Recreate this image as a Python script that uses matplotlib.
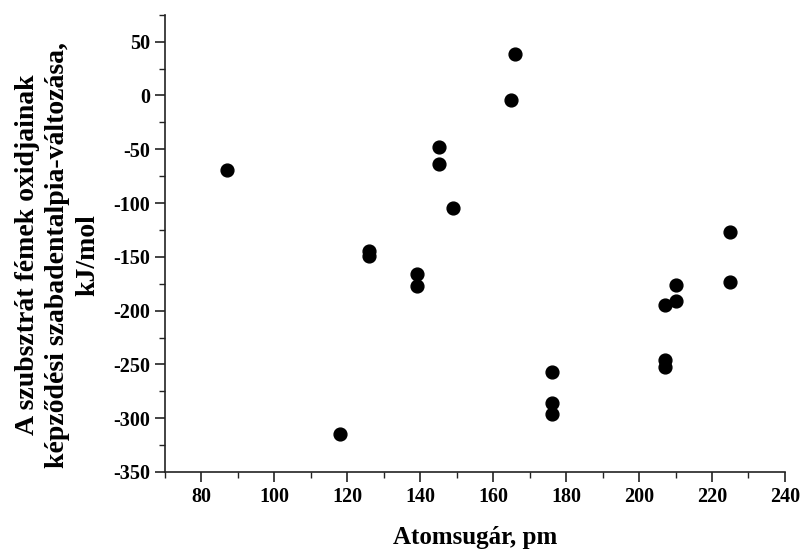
import matplotlib
matplotlib.use("Agg")
import matplotlib.pyplot as plt
from matplotlib.ticker import MultipleLocator

# atomic radius (pm) vs. Gibbs free energy of oxide formation (kJ/mol)
radius = [87, 118, 126, 126, 139, 139, 145, 145, 149, 165, 166,
          176, 176, 176, 207, 207, 207, 210, 210, 225, 225]
energy = [-69, -315, -145, -149, -166, -177, -48, -64, -105, -4, 39,
          -257, -286, -296, -195, -246, -252, -176, -191, -127, -173]

xticks = [80, 100, 120, 140, 160, 180, 200, 220, 240]
yticks = [50, 0, -50, -100, -150, -200, -250, -300, -350]

plt.rcParams['font.family'] = ['Liberation Serif', 'DejaVu Serif']
plt.rcParams['font.weight'] = 'bold'
plt.rcParams['axes.unicode_minus'] = False

fig = plt.figure(figsize=(8.03, 5.53), dpi=100)
ax = fig.add_axes([0.2055, 0.1465, 0.772, 0.8267])

ax.scatter(radius, energy, s=85, color='black', zorder=3)

ax.set_xlim(70, 240)
ax.set_ylim(-350, 75)
ax.set_xticks(xticks)
ax.set_yticks(yticks)
ax.xaxis.set_minor_locator(MultipleLocator(10))
ax.yaxis.set_minor_locator(MultipleLocator(25))

for side in ['top', 'right']:
    ax.spines[side].set_visible(False)
for side in ['left', 'bottom']:
    ax.spines[side].set_linewidth(1.2)
    ax.spines[side].set_color('#222222')

ax.tick_params(which='major', direction='out', length=7, width=1.2,
               labelsize=14.5, color='#222222')
ax.tick_params(which='minor', direction='out', length=4, width=1.0,
               color='#222222')
for lab in ax.get_xticklabels() + ax.get_yticklabels():
    lab.set_fontweight('bold')

ax.set_xlabel('Atomsugár, pm', fontsize=18, fontweight='bold', labelpad=14)
ax.set_ylabel('A szubsztrát fémek oxidjainak\n'
              'képződési szabadentalpia-változása,\nkJ/mol',
              fontsize=20, fontweight='bold', linespacing=1.25)
ax.yaxis.set_label_coords(-0.105, 0.475)

fig.savefig('out.png', dpi=100)
